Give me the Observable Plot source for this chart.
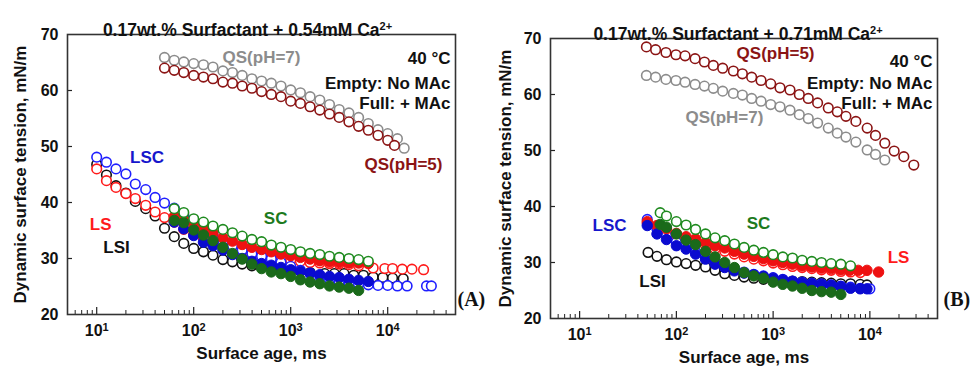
<!DOCTYPE html>
<html><head><meta charset="utf-8">
<script src="https://cdn.jsdelivr.net/npm/d3@7"></script>
<script src="https://cdn.jsdelivr.net/npm/@observablehq/plot@0.6"></script>
<style>
body{margin:0;background:#fff;}
#wrap{position:relative;width:971px;height:366px;overflow:hidden;background:#fff;}
#pa{position:absolute;left:0;top:0;}
#pb{position:absolute;left:485px;top:0;}
</style></head><body><div id="wrap"><div id="pa"></div><div id="pb"></div></div>
<script>
// ---------- colours ----------
const GRAY = "#8c8c8c", DRED = "#8b1414", RED = "#ff1a1a", REDF = "#ee1111",
      BLUE = "#1f1fff", BLUEF = "#0a0ad0", GREEN = "#1e8a1e", GREENF = "#1a6a1a", BLACK = "#111111";

// ---------- axis ticks ----------
const xMajorTicks = [10, 100, 1000, 10000];
const xMinorTicks = [5,6,7,8,9,20,30,40,50,60,70,80,90,200,300,400,500,600,700,800,900,
                     2000,3000,4000,5000,6000,7000,8000,9000,20000,30000,40000];
const yTicks = [20, 30, 40, 50, 60, 70];
const yInnerTicks = [30, 40, 50, 60];
const supDigits = {1: "¹", 2: "²", 3: "³", 4: "⁴"};

// ---------- Panel A data (0.54 mM Ca2+) ----------
const tA_QS7 = [50,63,79,100,126,158,200,251,316,398,501,631,794,1000,1259,1585,1995,2512,3162,3981,5012,6310,7943,10000,12589,14791];
const A_QS7  = [65.9,65.4,65.1,64.8,64.6,64.2,63.5,63.2,62.7,62.1,61.7,61.3,60.8,60.1,59.6,58.9,58.3,57.5,56.6,56.0,55.2,54.1,53.0,52.3,51.4,49.7];
const tA_QS5 = [50,63,79,100,126,158,200,251,316,398,501,631,794,1000,1259,1585,1995,2512,3162,3981,5012,6310,7943,10000,11749];
const A_QS5  = [64.0,63.6,63.2,62.7,62.4,62.1,61.5,61.3,60.8,60.4,59.8,59.3,58.9,58.1,57.7,57.1,56.5,55.8,55.2,54.4,53.6,52.9,52.0,51.1,50.2];
const tA_LSC_o = [10,12.6,15.8,20,25,32,40,50,63,79,100,126,158,200,251,316,398,501,631,794,1000,1259,1585,1995,2512,3162,3981,5012,6310,7943,10000,12589,15849,25119,28184];
const A_LSC_o  = [48.1,47.2,46.0,45.1,43.3,42.3,40.9,39.9,39.0,37.8,36.5,35.3,34.2,33.2,32.3,31.5,30.9,30.4,29.9,29.3,28.6,27.9,27.3,26.8,26.3,25.9,25.6,25.4,25.3,25.2,25.2,25.1,25.1,25.1,25.1];
const tA_LS_o = [10,12.6,15.8,20,25,32,40,50,63,79,100,126,158,200,251,316,398,501,631,794,1000,1259,1585,1995,2512,3162,3981,5012,7079,9333,11220,14125,17783,23442];
const A_LS_o  = [46.0,43.9,42.7,41.6,40.7,39.5,38.3,37.3,36.5,35.2,34.3,33.6,33.0,32.4,31.8,31.3,30.9,30.5,30.1,29.9,29.7,29.5,29.3,29.2,29.1,29.0,28.9,28.7,28.3,28.2,28.2,28.1,28.1,28.0];
const tA_LSI = [10,12.6,15.8,20,25,32,40,50,63,79,100,126,158,200,251,316,398,501,631,794,1000,1259,1585,2239,2818,3548,4467,5623,7079,8913,11220,14454];
const A_LSI  = [46.8,44.9,43.0,41.7,40.2,38.9,37.6,35.4,33.9,32.7,31.8,31.2,30.6,29.8,29.4,29.0,28.7,28.5,28.3,28.1,27.9,27.7,27.5,27.3,27.3,27.3,27.0,27.0,26.7,26.6,26.5,26.4];
const tA_MAc = [63,79,100,126,158,200,251,316,398,501,631,794,1000,1259,1585,1995,2512,3162,3981,5012,6310];
const A_SC_o  = [38.9,38.2,37.1,36.5,35.8,35.2,34.6,34.0,33.4,33.0,32.4,32.0,31.6,31.2,30.9,30.7,30.4,30.2,30.0,29.8,29.5];
const A_SC_f  = [36.8,36.4,35.1,34.2,33.2,32.0,30.9,29.9,29.0,28.2,27.6,27.3,26.8,26.2,25.8,25.5,25.1,24.9,24.7,24.3];
const A_LSC_f = [36.5,35.3,34.1,32.9,32.3,31.5,30.7,30.0,29.5,29.1,28.8,28.4,28.0,27.7,27.4,27.1,26.8,26.6,26.3,26.1,25.9];
const A_LS_f  = [37.5,36.9,36.1,35.4,34.6,33.7,33.1,32.5,32.0,31.6,31.2,30.8,30.5,30.2,29.9,29.6,29.4,29.3,29.2,29.2,29.1];

// ---------- Panel B data (0.71 mM Ca2+) ----------
const tB_QS = [49,61,78,99,123,156,195,241,301,388,481,600,750,944,1178,1494,1864,2307,2882,3715,4603,5655,7166,9380,11430,14270,17820,22430,28440];
const B_QS5 = [68.5,68.0,67.5,67.1,66.9,66.4,65.8,65.2,64.7,64.2,63.7,63.1,62.5,61.9,61.2,60.8,60.0,59.3,58.5,57.6,56.9,56.1,55.2,54.0,52.7,51.3,49.9,48.9,47.4];
const B_QS7 = [63.4,63.1,62.7,62.5,62.2,61.8,61.5,61.1,60.6,60.2,59.9,59.3,58.8,58.2,57.8,57.2,56.4,55.7,54.9,54.0,53.1,52.4,51.5,50.1,49.3,48.3];
const tB = [50,63,79,100,126,158,200,251,316,398,501,631,794,1000,1259,1585,1995,2512,3162,3981,5012,6310,7943,10000];
const B_LSC_o = [37.7,36.0,34.8,33.6,32.8,31.9,31.0,30.1,29.4,28.8,28.3,27.9,27.6,27.3,27.0,26.7,26.5,26.3,26.2,26.0,25.8,25.6,25.4,25.3];
const tB_LSC_f = [50,63,79,100,126,158,200,251,316,398,501,631,794,1000,1259,1585,1995,2512,3162,3981,5012,6310,7943,9333];
const B_LSC_f = [36.6,35.1,34.1,33.0,32.4,31.5,30.6,29.7,29.1,28.5,28.1,27.8,27.5,27.2,26.9,26.6,26.4,26.2,26.1,25.9,25.7,25.4,25.3,25.3];
const tB_LS_f = [50,63,79,100,126,158,200,251,316,398,501,631,794,1000,1259,1585,1995,2512,3162,3981,5012,6166,7586,9333,12303];
const B_LS_f = [37.3,36.6,36.0,35.2,34.6,34.2,33.6,33.0,32.6,32.0,31.5,31.1,30.7,30.3,30.0,29.7,29.4,29.2,29.0,28.9,28.7,28.6,28.6,28.6,28.3];
const B_LS_o = [37.0,36.3,35.6,34.8,34.2,33.8,33.1,32.5,32.0,31.5,31.0,30.6,30.3,29.9,29.6,29.3,29.1,28.9,28.7,28.6,28.4,28.3,28.2];
const tB_SC = [68,79,100,126,158,200,251,316,398,501,631,794,1000,1259,1585,1995,2512,3162,3981,5012,6310];
const B_SC_o = [38.9,38.3,37.3,36.7,35.9,35.1,34.4,33.9,33.3,32.7,32.2,31.8,31.4,31.0,30.8,30.4,30.2,30.0,29.8,29.7,29.4];
const B_SC_f = [36.8,36.3,35.1,34.0,33.2,32.0,31.0,30.0,29.1,28.2,27.6,27.2,26.5,26.1,25.8,25.4,25.0,24.8,24.7,24.3];
const tB_LSI = [51,63,79,100,126,158,200,251,316,398,501,631,794,1000,1259,1585,1995,2512,3162,3981,5012,6310,7943,9333];
const B_LSI = [31.8,31.1,30.5,30.1,29.8,29.5,29.2,28.6,28.0,27.7,27.4,27.2,27.0,26.9,26.8,26.7,26.6,26.5,26.4,26.3,26.2,26.2,26.1,26.0];

// ---------- annotation labels ----------
const labelsA = [
  {text: "QS(pH=7)", t: 500, v: 65.9, color: GRAY},
  {text: "QS(pH=5)", t: 14550, v: 46.8, color: DRED},
  {text: "LSC", t: 33, v: 48.0, color: "#1616cc"},
  {text: "LS", t: 11, v: 36.1, color: RED},
  {text: "LSI", t: 16, v: 32.0, color: BLACK},
  {text: "SC", t: 700, v: 37.1, color: "#1d7a1d"}
];
const labelsB = [
  {text: "QS(pH=5)", t: 1059, v: 67.3, color: DRED},
  {text: "QS(pH=7)", t: 314, v: 55.9, color: GRAY},
  {text: "LSC", t: 20.4, v: 36.6, color: "#1616cc"},
  {text: "SC", t: 706, v: 37.0, color: "#1d7a1d"},
  {text: "LS", t: 19770, v: 30.9, color: RED},
  {text: "LSI", t: 56.6, v: 26.6, color: BLACK}
];
const infoLines = ["40 °C", "Empty: No MAc", "Full: + MAc"];

function rows(t, v) { return v.map((val, i) => ({t: t[i], v: val})); }

const seriesA = [
  {t: tA_QS7, v: A_QS7, color: GRAY, filled: false},
  {t: tA_QS5, v: A_QS5, color: DRED, filled: false},
  {t: tA_LSI, v: A_LSI, color: BLACK, filled: false},
  {t: tA_LS_o, v: A_LS_o, color: RED, filled: false},
  {t: tA_LSC_o, v: A_LSC_o, color: BLUE, filled: false},
  {t: tA_MAc, v: A_LSC_f, color: BLUEF, filled: true},
  {t: tA_MAc, v: A_LS_f, color: REDF, filled: true},
  {t: tA_MAc, v: A_SC_f, color: GREENF, filled: true},
  {t: tA_MAc, v: A_SC_o, color: GREEN, filled: false}
];
const seriesB = [
  {t: tB_QS, v: B_QS7, color: GRAY, filled: false},
  {t: tB_QS, v: B_QS5, color: DRED, filled: false},
  {t: tB_LSI, v: B_LSI, color: BLACK, filled: false},
  {t: tB, v: B_LS_o, color: RED, filled: false},
  {t: tB, v: B_LSC_o, color: BLUE, filled: false},
  {t: tB_LS_f, v: B_LS_f, color: REDF, filled: true},
  {t: tB_LSC_f, v: B_LSC_f, color: BLUEF, filled: true},
  {t: tB_SC, v: B_SC_f, color: GREENF, filled: true},
  {t: tB_SC, v: B_SC_o, color: GREEN, filled: false}
];

const SANS = "'Liberation Sans', Arial, Helvetica, sans-serif";

function panel(o) {
  const fw = o.width - o.ml - o.mr, fh = 366 - o.mt - o.mb;
  const marks = [];
  for (const s of o.series) {
    marks.push(Plot.dot(rows(s.t, s.v), {
      x: "t", y: "v", r: s.filled ? 5.2 : 4.8,
      stroke: s.color, strokeWidth: s.filled ? 1 : 1.6,
      fill: s.filled ? s.color : "white"
    }));
  }
  marks.push(Plot.ruleX(xMinorTicks, {insetTop: fh - 4, stroke: "#222", strokeWidth: 1}));
  marks.push(Plot.ruleX(xMajorTicks, {insetTop: fh - 7, stroke: "#222", strokeWidth: 1.2}));
  marks.push(Plot.ruleY(yInnerTicks, {insetRight: fw - 5, stroke: "#222", strokeWidth: 1.2}));
  marks.push(Plot.frame({stroke: "#333", strokeWidth: 1.6}));
  marks.push(Plot.axisX({ticks: xMajorTicks, tickSize: 0, tickPadding: 10, label: null,
    tickFormat: d => "10" + supDigits[Math.round(Math.log10(d))], fontSize: 16}));
  marks.push(Plot.axisY({ticks: yTicks, tickSize: 0, tickPadding: 9, label: null, fontSize: 16}));
  for (const l of o.labels) {
    marks.push(Plot.text([l], {x: "t", y: "v", text: "text", fill: l.color, fontSize: 17, fontWeight: "bold"}));
  }
  infoLines.forEach((line, i) => {
    marks.push(Plot.text([line], {text: d => d, frameAnchor: "top-right", textAnchor: "end",
      dx: o.infoDx, dy: o.infoDy[i], fontSize: 17, fontWeight: "bold", fill: "#111"}));
  });
  marks.push(Plot.text([o.title], {text: d => d, frameAnchor: "top", textAnchor: "middle", dx: o.titleDx, dy: -11,
    fontSize: 17.5, fontWeight: "bold", fill: "#111"}));
  marks.push(Plot.text(["Surface age, ms"], {text: d => d, frameAnchor: "bottom", textAnchor: "middle", dy: 44,
    fontSize: 17, fontWeight: "bold", fill: "#111"}));
  marks.push(Plot.text(["Dynamic surface tension, mN/m"], {text: d => d, frameAnchor: "left", textAnchor: "middle",
    dx: o.ylabDx, rotate: -90, fontSize: 17, fontWeight: "bold", fill: "#111"}));
  marks.push(Plot.text([o.tag], {text: d => d, frameAnchor: "bottom-right", textAnchor: "start",
    dx: o.tagDx, dy: o.tagDy, fontSize: 20, fontWeight: "bold", fill: "#111",
    fontFamily: "'Liberation Serif', 'Times New Roman', serif"}));
  const svg = Plot.plot({
    width: o.width, height: 366,
    marginLeft: o.ml, marginRight: o.mr, marginTop: o.mt, marginBottom: o.mb,
    x: {type: "log", domain: [5, 50000]},
    y: {domain: [20, 70]},
    style: {fontFamily: SANS, fontWeight: "bold", fontSize: "16px", color: "#111", background: "transparent", overflow: "visible"},
    marks
  });
  // real superscripts for "10^n" tick labels and "Ca2+"
  d3.select(svg).selectAll("text").each(function () {
    const el = d3.select(this);
    const s = this.textContent;
    const m = /^10([¹²³⁴])$/.exec(s);
    if (m) {
      const n = {"¹": "1", "²": "2", "³": "3", "⁴": "4"}[m[1]];
      el.text("10");
      el.append("tspan").attr("dy", "-0.45em").attr("font-size", "11px").text(n);
    } else if (s.endsWith("Ca²⁺")) {
      el.text(s.slice(0, -2));
      el.append("tspan").attr("dy", "-0.5em").attr("font-size", "11px").text("2+");
    }
  });
  return svg;
}

document.getElementById("pa").appendChild(panel({
  width: 485, ml: 67, mr: 30, mt: 34, mb: 52,
  series: seriesA, labels: labelsA,
  title: "0.17wt.% Surfactant + 0.54mM Ca²⁺", titleDx: -14,
  infoDx: -5, infoDy: [17, 42, 62], ylabDx: -47,
  tag: "(A)", tagDx: 2, tagDy: -9
}));
document.getElementById("pb").appendChild(panel({
  width: 486, ml: 65, mr: 34, mt: 38, mb: 48,
  series: seriesB, labels: labelsB,
  title: "0.17wt.% Surfactant + 0.71mM Ca²⁺", titleDx: -6,
  infoDx: -5, infoDy: [16, 38, 58], ylabDx: -45,
  tag: "(B)", tagDx: 6, tagDy: -13
}));
</script></body></html>
